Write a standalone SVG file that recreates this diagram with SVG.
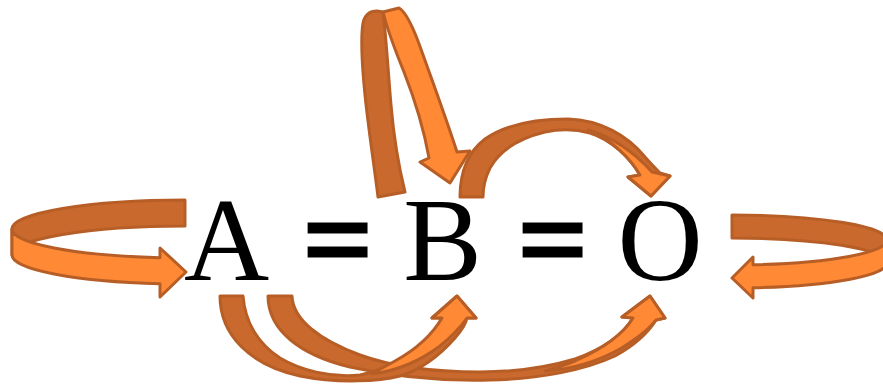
<svg xmlns="http://www.w3.org/2000/svg" width="883" height="384" viewBox="0 0 883 384">
<style>
.dk{fill:#C9692D;stroke:#B75E27;stroke-width:3;stroke-linejoin:round}
.lt{fill:#FF8934;stroke:#B75E27;stroke-width:3;stroke-linejoin:round}
.t{font-size:118px;fill:#000;text-anchor:middle}
.eq{font-size:118px;fill:#000;stroke:#000;stroke-width:5;text-anchor:middle}
</style>
<rect width="883" height="384" fill="#fff"/>
<g id="connectors">
  <g id="loop-left">
    <path class="dk" d="M185,200 A173,29 0 0 0 12,229 L12,255 A173,29 0 0 1 185,226 Z"/>
    <path class="lt" d="M12,229 A173,29 0 0 0 160,257.7 L160,248 L186,272 L160,297 L160,283.7 A173,29 0 0 1 12,255 Z"/>
  </g>
  <g id="loop-right">
    <path class="dk" d="M732,215 A155,25 0 0 1 887,240 L887,263 A155,25 0 0 0 732,238 Z"/>
    <path class="lt" d="M887,240 A155,25 0 0 1 753,264.8 L753,257 L732,278 L753,298 L753,287.8 A155,25 0 0 0 887,263 Z"/>
  </g>
  <g id="loop-top">
    <path class="dk" d="M378,197 C374,165 368,125 365,95 C362,65 361,35 363,23 C365,14 370,11 377,11 L383,12 C386,35 388,70 391,105 C394,140 399,168 405,192 Z"/>
    <path class="lt" d="M383,12 L399,8 C406,12 413,26 422,52 C432,80 446,118 457,152 L470,151 L450,183 L420,162 L429,158 C424,130 415,100 404,72 C395,50 388,32 383,12 Z"/>
  </g>
  <g id="arc-b-o">
    <path class="dk" d="M460,197 C460,172 468,152 485,139 C505,125 535,119 568,119 C600,120 627,135 645,157 C652,165 656,169 660,173 L670,176 L651,196 L628,177 L640,175 C630,158 612,140 590,133 C575,129 560,129 545,132 C520,138 500,150 490,168 C485,178 483,188 483,197 Z"/>
    <path class="lt" d="M588,130 C612,136 636,154 652,172 L670,176 L651,196 L628,177 L640,175 C630,158 612,140 588,130 Z"/>
  </g>
  <g id="arc-a-o">
    <path class="dk" d="M268,296 C268,330 300,355 350,367 C400,378 450,381 490,380 C540,379 585,370 615,356 C635,345 648,333 656,320 L665,318 L650,296 L622,317 L633,318 C622,336 600,350 575,359 C545,368 515,372 480,372 C430,372 390,366 360,355 C320,340 293,320 292,296 Z"/>
    <path class="lt" d="M545,371 C575,369 600,360 620,349 C638,338 650,328 656,320 L665,318 L650,296 L622,317 L633,318 C622,336 600,350 575,361 C565,365 555,368 545,371 Z"/>
  </g>
  <g id="arc-a-b">
    <path class="dk" d="M220,296 C220,335 250,365 300,376 C340,384 380,381 400,376 C420,370 440,355 455,338 C462,330 466,323 467,318 L476,318 L457,296 L432,318 L442,318 C435,333 420,350 400,360 C385,367 375,372 360,375 C330,378 300,370 280,358 C258,344 245,322 243,296 Z"/>
    <path class="lt" d="M372,374 C395,371 420,361 440,346 C452,336 462,325 467,318 L476,318 L457,296 L432,318 L442,318 C432,335 415,350 395,361 C388,365 380,369 372,374 Z"/>
  </g>
</g>
<g id="node-a"><text class="t" font-family="Liberation Serif, serif" x="226.5" y="280">A</text></g>
<g id="eq-1"><text class="eq" font-family="Liberation Serif, serif" x="337.5" y="280">=</text></g>
<g id="node-b"><text class="t" font-family="Liberation Serif, serif" x="442.5" y="280">B</text></g>
<g id="eq-2"><text class="eq" font-family="Liberation Serif, serif" x="552.5" y="280">=</text></g>
<g id="node-o"><text class="t" font-family="Liberation Serif, serif" x="660" y="280">O</text></g>
</svg>
